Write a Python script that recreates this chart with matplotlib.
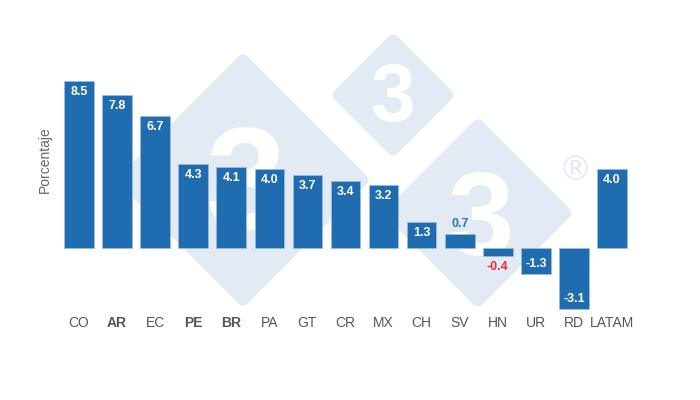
import matplotlib
matplotlib.use("Agg")
import matplotlib.pyplot as plt
from matplotlib.patches import Polygon

plt.rcParams['font.family'] = ['Liberation Sans', 'DejaVu Sans']

categories = ["CO", "AR", "EC", "PE", "BR", "PA", "GT", "CR", "MX", "CH", "SV", "HN", "UR", "RD", "LATAM"]
values = [8.5, 7.8, 6.7, 4.3, 4.1, 4.0, 3.7, 3.4, 3.2, 1.3, 0.7, -0.4, -1.3, -3.1, 4.0]
bold_labels = ["AR", "PE", "BR"]
ylabel = "Porcentaje"

W, H = 700, 400
fig = plt.figure(figsize=(7, 4), dpi=100)

# watermark background
bg = fig.add_axes([0, 0, 1, 1], zorder=0)
bg.set_xlim(0, W)
bg.set_ylim(H, 0)
bg.axis('off')
wm = '#e2eaf4'

def diamond(cx, cy, r):
    r = r - 8
    p = Polygon([(cx, cy - r), (cx + r, cy), (cx, cy + r), (cx - r, cy)], closed=True,
                facecolor=wm, edgecolor=wm, lw=8, joinstyle='round')
    bg.add_patch(p)

diamond(243, 180, 128)
diamond(393, 95, 63)
diamond(478, 213, 96)
bg.text(246, 190, "3", color='white', fontsize=104, fontweight='bold', ha='center', va='center')
bg.text(393, 100, "3", color='white', fontsize=58, fontweight='bold', ha='center', va='center')
bg.text(481, 224, "3", color='white', fontsize=86, fontweight='bold', ha='center', va='center')
bg.text(575, 170, "®", color=wm, fontsize=24, ha='center', va='center', family='DejaVu Sans')

# main axes
left_px, right_px = 60, 631
ymin, ymax = -3.2, 9.6
zero_px, ppu = 248, 19.65
top_px = zero_px - ymax * ppu
bot_px = zero_px - ymin * ppu
ax = fig.add_axes([left_px / W, 1 - bot_px / H, (right_px - left_px) / W, (bot_px - top_px) / H], zorder=1)
ax.patch.set_alpha(0)

x = list(range(len(categories)))
bar_color = '#1f6cb0'
ax.bar(x, values, width=0.78, color=bar_color, edgecolor='#9dbde0', linewidth=0.5)
ax.set_xlim(-0.5, len(categories) - 0.5)
ax.set_ylim(ymin, ymax)

off = 11 / ppu
for xi, v in zip(x, values):
    lbl = f"{v:.1f}"
    if v >= 1.0:
        ax.text(xi, v - off, lbl, color='white', fontsize=9, fontweight='bold', ha='center', va='center')
    elif v >= 0:
        ax.text(xi, v + 10 / ppu, lbl, color='#2a73b8', fontsize=9, fontweight='bold', ha='center', va='center')
    elif v > -1.0:
        ax.text(xi, v - off, lbl, color='#e8303a', fontsize=9, fontweight='bold', ha='center', va='center')
    else:
        ax.text(xi, v + 10 / ppu, lbl, color='white', fontsize=9, fontweight='bold', ha='center', va='center')

ax.set_xticks(x)
ax.set_xticklabels(categories, fontsize=10, color='#555555')
for t in ax.get_xticklabels():
    if t.get_text() in bold_labels:
        t.set_fontweight('bold')
ax.tick_params(axis='x', length=0, pad=4)
ax.set_yticks([])
for s in ax.spines.values():
    s.set_visible(False)

fig.text(45 / W, 1 - 160 / H, ylabel, rotation=90, fontsize=10, color='#666666', ha='center', va='center')

fig.savefig("out.png", dpi=100)
